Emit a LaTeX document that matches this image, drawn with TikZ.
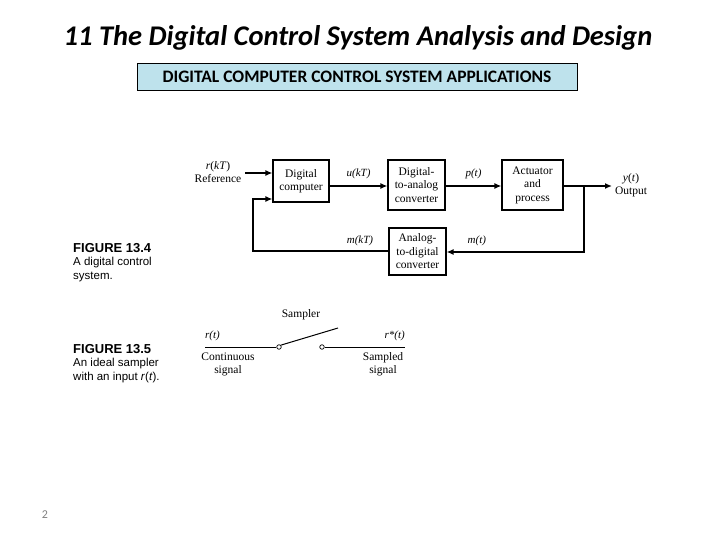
\documentclass[tikz,border=0pt]{standalone}
\usepackage{fontspec}
\setmainfont{Liberation Serif}
\newfontfamily\carlitofont{Carlito}
\newfontfamily\helfont{Liberation Sans}
\usetikzlibrary{arrows.meta}
\definecolor{boxblue}{HTML}{BEE2EC}
\begin{document}
\begin{tikzpicture}[x=1pt,y=-1pt,
  blk/.style={draw,line width=1.2pt,minimum width=#1,align=center,font=\fontsize{11.5}{13.5}\selectfont,inner sep=1pt},
  blk/.default=57pt,
  sig/.style={line width=2pt,-{Latex[length=7pt,width=6pt]}},
  wire/.style={line width=2pt},
  lbl/.style={font=\fontsize{11}{13}\selectfont\itshape,inner sep=1pt},
  txt/.style={font=\fontsize{11.5}{13}\selectfont,inner sep=1pt,align=center},
  figcap/.style={font=\helfont\fontsize{11.5}{13.5}\selectfont,anchor=north west,align=left,inner sep=0pt}]
\useasboundingbox (0,0) rectangle (720,540);
% title
\node (title) at (358,38) {\carlitofont\bfseries\itshape\fontsize{28.5}{32}\selectfont 11 The Digital Control System Analysis and Design};
\node[draw,fill=boxblue,minimum width=440pt,minimum height=27pt,inner sep=0pt] (sub) at (357,77)
  {\carlitofont\bfseries\fontsize{17.5}{20}\selectfont DIGITAL COMPUTER CONTROL SYSTEM APPLICATIONS};
% blocks
\node[blk=56pt,minimum height=42pt] (dc) at (301,181) {Digital\\computer};
\node[blk=57pt,minimum height=50pt] (dac) at (416.5,185) {Digital-\\to-analog\\converter};
\node[blk=61pt,minimum height=50pt] (act) at (532.5,185) {Actuator\\and\\process};
\node[blk=57pt,minimum height=47pt] (adc) at (417.5,251.5) {Analog-\\to-digital\\converter};
% reference
\node[txt] (ref) at (218,172) {\textit{r}(\textit{kT})\\Reference};
\coordinate (refs) at (245,173);
\draw[sig] (refs) -- (dc.west |- refs);
% forward
\draw[sig] (dc.east |- 0,186) -- (dac.west |- 0,186) node[lbl,midway,above=5pt] (ukt) {u(kT)};
\draw[sig] (dac.east |- 0,186) -- (act.west |- 0,186) node[lbl,midway,above=5pt] (pt) {p(t)};
\coordinate (br) at (584,186);
\coordinate (outend) at (612,186);
\draw[wire] (act.east |- br) -- (br);
\draw[sig] (br) -- (outend);
\node[txt] (out) at (631,185) {\textit{y}(\textit{t})\\Output};
% feedback
\coordinate (brd) at (584,252);
\draw[sig] (br) -- (brd) -- (adc.east |- brd) node[lbl,pos=0.78,above=4pt] (mt) {m(t)};
\coordinate (fbl) at (253,251);
\coordinate (fbu) at (253,199);
\draw[sig] (adc.west |- fbl) -- (fbl) -- (fbu) -- (dc.west |- fbu);
\node[lbl] (mkt) at (360,241) {m(kT)};
% captions
\node[figcap] (c4) at (73,243) {\textbf{\fontsize{13}{14}\selectfont FIGURE 13.4}\\A digital control\\system.};
\node[figcap] (c5) at (73,344) {\textbf{\fontsize{13}{14}\selectfont FIGURE 13.5}\\An ideal sampler\\with an input \textit{r}(\textit{t}).};
% sampler
\coordinate (s0) at (205,347);
\node[circle,draw,line width=0.7pt,inner sep=0pt,minimum size=4.5pt] (c1) at (279,347) {};
\node[circle,draw,line width=0.7pt,inner sep=0pt,minimum size=4.5pt] (c2) at (322,347) {};
\coordinate (s1) at (405,347);
\coordinate (arm) at (338,328);
\draw[line width=1pt] (s0) -- (c1.west);
\draw[line width=1pt] (c1.north east) -- (arm);
\draw[line width=1pt] (c2.east) -- (s1);
\node[txt] (samp) at (301,315) {Sampler};
\node[lbl,anchor=west] (rt) at (204,336) {r(t)};
\node[lbl,anchor=east] (rst) at (406,336) {r*(t)};
\node[txt] (cont) at (228,364) {Continuous\\signal};
\node[txt] (sampd) at (383,364) {Sampled\\signal};
% page number
\node[text=gray,font=\carlitofont\fontsize{12}{14}\selectfont] (pg) at (45,515) {2};
\end{tikzpicture}
\end{document}
